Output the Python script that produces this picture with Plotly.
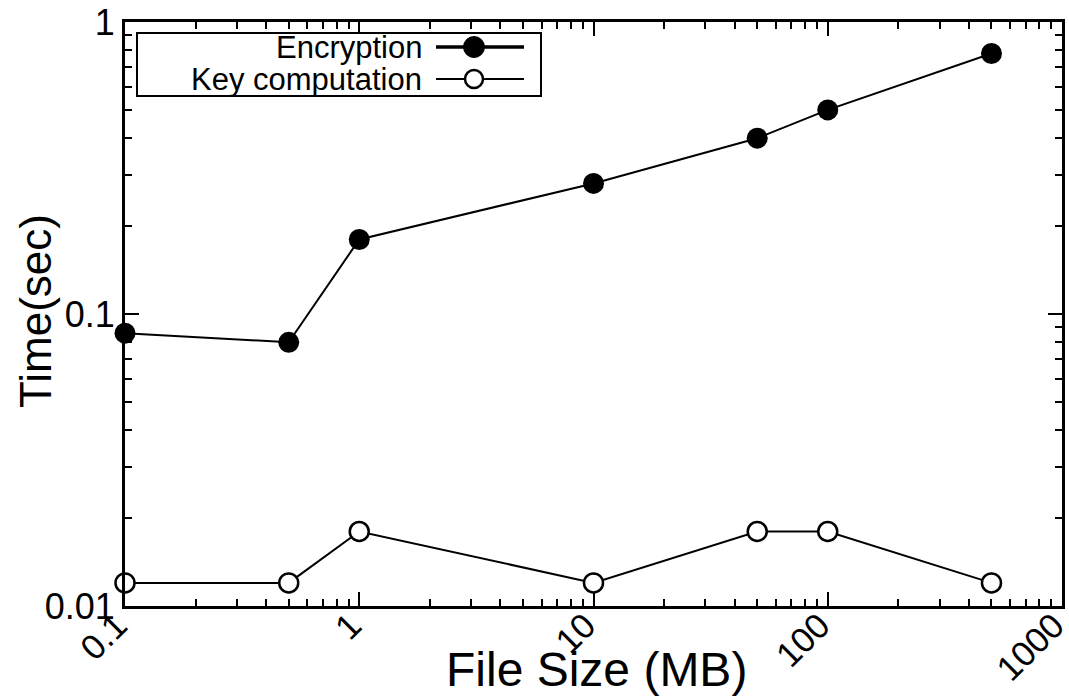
import plotly.graph_objects as go

# ---- data ----
file_size = [0.1, 0.5, 1, 10, 50, 100, 500]
encryption = [0.086, 0.080, 0.18, 0.28, 0.40, 0.50, 0.78]
key_comp = [0.012, 0.012, 0.018, 0.012, 0.018, 0.018, 0.012]
series_names = ["Encryption", "Key computation"]
x_ticks = [0.1, 1, 10, 100, 1000]
x_ticklabels = ["0.1", "1", "10", "100", "1000"]
y_ticks = [0.01, 0.1, 1]
y_ticklabels = ["0.01", "0.1", "1"]
x_title = "File Size (MB)"
y_title = "Time(sec)"

# ---- layout constants ----
W, H = 1069, 696
L, R, T, B = 125, 7, 22, 90
PW, PH = W - L - R, H - T - B
FONT = "Liberation Sans, Arial, sans-serif"


def px(x):
    return (x - L) / PW


def py(y):
    return 1 - (y - T) / PH


x_minor = [m * 10 ** k for k in range(-1, 3) for m in range(2, 10)]
y_minor = [m * 10 ** k for k in range(-2, 0) for m in range(2, 10)]

fig = go.Figure()
fig.add_trace(go.Scatter(
    x=file_size, y=encryption, mode="lines+markers", name=series_names[0],
    line=dict(color="black", width=2),
    marker=dict(symbol="circle", size=21, color="black"),
    showlegend=False, cliponaxis=False))
fig.add_trace(go.Scatter(
    x=file_size, y=key_comp, mode="lines+markers", name=series_names[1],
    line=dict(color="black", width=2),
    marker=dict(symbol="circle", size=19, color="white",
                line=dict(color="black", width=2.5)),
    showlegend=False, cliponaxis=False))

axis_common = dict(
    type="log", showgrid=False, zeroline=False, showline=True,
    linecolor="black", linewidth=3, mirror="ticks", automargin=False,
    ticks="inside", ticklen=14, tickwidth=2, tickcolor="black",
    tickfont=dict(family=FONT, size=36, color="black"),
    ticklabeloverflow="allow",
)

fig.update_xaxes(
    **axis_common, range=[-1, 3], tickvals=x_ticks, ticktext=x_ticklabels,
    tickangle=-45, ticklabelstandoff=-18, ticklabelshift=-8,
    tickfont_size=35,
    minor=dict(tickvals=x_minor, ticks="inside", ticklen=7, tickwidth=2,
               tickcolor="black", showgrid=False))
fig.update_yaxes(
    **axis_common, range=[-2, 0], tickvals=y_ticks, ticktext=y_ticklabels,
    minor=dict(tickvals=y_minor, ticks="inside", ticklen=7, tickwidth=2,
               tickcolor="black", showgrid=False))

# ---- manual legend (marker to the right of the text) ----
shapes = [
    dict(type="rect", xref="paper", yref="paper",
         x0=px(137), x1=px(541), y0=py(96), y1=py(33),
         line=dict(color="black", width=2), fillcolor="white", layer="above"),
    dict(type="line", xref="paper", yref="paper",
         x0=px(436), x1=px(524), y0=py(47), y1=py(47),
         line=dict(color="black", width=3.5)),
    dict(type="line", xref="paper", yref="paper",
         x0=px(436), x1=px(524), y0=py(79), y1=py(79),
         line=dict(color="black", width=2)),
    dict(type="circle", xref="paper", yref="paper",
         x0=px(474 - 10.5), x1=px(474 + 10.5), y0=py(47 + 10.5), y1=py(47 - 10.5),
         line=dict(color="black", width=1), fillcolor="black"),
    dict(type="circle", xref="paper", yref="paper",
         x0=px(474 - 9), x1=px(474 + 9), y0=py(79 + 9), y1=py(79 - 9),
         line=dict(color="black", width=2.5), fillcolor="white"),
]

annotations = [
    dict(text=series_names[0], xref="paper", yref="paper", x=px(424), y=py(47),
         xanchor="right", yanchor="middle", showarrow=False,
         font=dict(family=FONT, size=31, color="black")),
    dict(text=series_names[1], xref="paper", yref="paper", x=px(424), y=py(79),
         xanchor="right", yanchor="middle", showarrow=False,
         font=dict(family=FONT, size=31, color="black")),
    dict(text=x_title, xref="paper", yref="paper", x=px(596), y=py(641),
         xanchor="center", yanchor="top", showarrow=False,
         font=dict(family=FONT, size=48, color="black")),
    dict(text=y_title, xref="paper", yref="paper", x=px(36), y=py(311),
         xanchor="center", yanchor="middle", showarrow=False, textangle=-90,
         font=dict(family=FONT, size=44, color="black")),
]

fig.update_layout(
    width=W, height=H,
    margin=dict(l=L, r=R, t=T, b=B, pad=0, autoexpand=False),
    paper_bgcolor="white", plot_bgcolor="white",
    shapes=shapes, annotations=annotations, showlegend=False,
)

fig.write_html("out.html")
